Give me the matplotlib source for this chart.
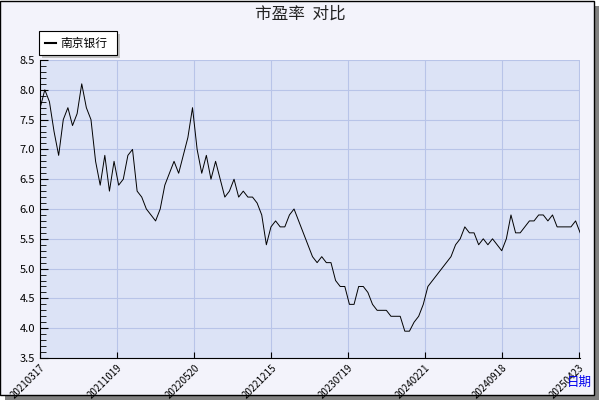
import matplotlib
matplotlib.use("Agg")
import matplotlib.pyplot as plt
from matplotlib.patches import Rectangle

plt.rcParams['font.family'] = ['Noto Sans CJK SC', 'DejaVu Sans']

values = [7.7, 8.0, 7.8, 7.3, 6.9, 7.5, 7.7, 7.4, 7.6, 8.1, 7.7, 7.5, 6.8, 6.4, 6.9, 6.3,
          6.8, 6.4, 6.5, 6.9, 7.0, 6.3, 6.2, 6.0, 5.9, 5.8, 6.0, 6.4, 6.6, 6.8, 6.6, 6.9,
          7.2, 7.7, 7.0, 6.6, 6.9, 6.5, 6.8, 6.5, 6.2, 6.3, 6.5, 6.2, 6.3, 6.2, 6.2, 6.1,
          5.9, 5.4, 5.7, 5.8, 5.7, 5.7, 5.9, 6.0, 5.8, 5.6, 5.4, 5.2, 5.1, 5.2, 5.1, 5.1,
          4.8, 4.7, 4.7, 4.4, 4.4, 4.7, 4.7, 4.6, 4.4, 4.3, 4.3, 4.3, 4.2, 4.2, 4.2, 3.95,
          3.95, 4.1, 4.2, 4.4, 4.7, 4.8, 4.9, 5.0, 5.1, 5.2, 5.4, 5.5, 5.7, 5.6, 5.6, 5.4,
          5.5, 5.4, 5.5, 5.4, 5.3, 5.5, 5.9, 5.6, 5.6, 5.7, 5.8, 5.8, 5.9, 5.9, 5.8, 5.9,
          5.7, 5.7, 5.7, 5.7, 5.8, 5.6]
tick_labels = ['20210317', '20211019', '20220520', '20221215', '20230719',
               '20240221', '20240918', '20250423']

fig = plt.figure(figsize=(6, 4), dpi=100)
fig.patch.set_facecolor('white')
fig.patches.append(Rectangle((0.008, 0.0), 0.99, 0.985, transform=fig.transFigure,
                             facecolor='#808080', edgecolor='none', zorder=-2))
fig.patches.append(Rectangle((0.0, 0.012), 0.99, 0.985, transform=fig.transFigure,
                             facecolor='#f3f3fb', edgecolor='black', lw=1, zorder=-1))

ax = fig.add_axes([0.067, 0.105, 0.9, 0.745])
n = len(values)
ax.plot(range(n), values, color='black', lw=0.7)
ax.set_facecolor('#dce3f6')
ax.set_xlim(0, n - 1)
ax.set_ylim(3.5, 8.5)
step = (n - 1) * 77 / 540
ax.set_xticks([i * step for i in range(len(tick_labels))])
ax.set_xticklabels(tick_labels, rotation=45, fontsize=7, ha='right', rotation_mode='anchor')
ax.set_yticks([3.5 + 0.5 * i for i in range(11)])
ax.set_yticklabels([f'{3.5 + 0.5 * i:.1f}' for i in range(11)], fontsize=8)
ax.set_yticks([3.5 + 0.1 * i for i in range(51)], minor=True)
ax.tick_params(axis='y', which='both', direction='in', length=4)
ax.tick_params(axis='y', which='major', length=6)
ax.tick_params(axis='x', direction='in', length=4)
ax.grid(True, color='#b8c4e8', lw=0.8)
for s in ['top', 'right']:
    ax.spines[s].set_visible(False)

fig.text(0.5, 0.965, '市盈率  对比', ha='center', va='center', fontsize=12, color='#222222')
fig.text(0.965, 0.045, '日期', ha='center', va='center', fontsize=9, color='#0000ee')

fig.patches.append(Rectangle((0.07, 0.855), 0.13, 0.06, transform=fig.transFigure,
                             facecolor='#c0c0c0', edgecolor='none', zorder=1))
fig.patches.append(Rectangle((0.065, 0.862), 0.13, 0.06, transform=fig.transFigure,
                             facecolor='white', edgecolor='black', lw=0.8, zorder=2))
fig.lines.append(plt.Line2D([0.075, 0.093], [0.892, 0.892], transform=fig.transFigure,
                            color='black', lw=1.5, zorder=3))
fig.text(0.1, 0.892, '南京银行', va='center', fontsize=8.5, zorder=3)

fig.savefig('out.png', dpi=100)
